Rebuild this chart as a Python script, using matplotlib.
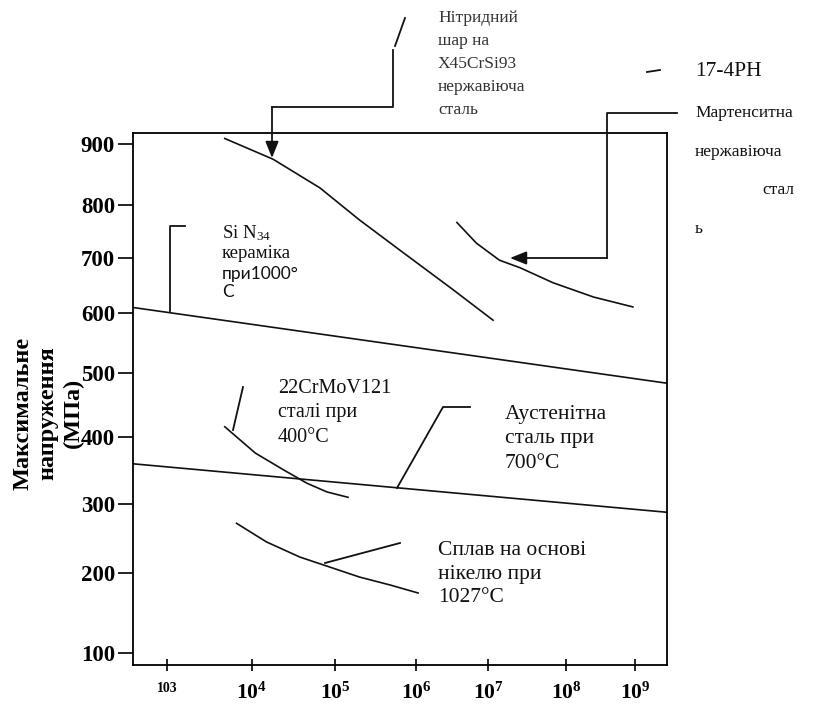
import numpy as np
import matplotlib
matplotlib.use("Agg")
import matplotlib.pyplot as plt
from matplotlib.lines import Line2D
from matplotlib.transforms import Affine2D

plt.rcParams['font.family'] = ['Liberation Serif', 'DejaVu Serif']
plt.rcParams['mathtext.fontset'] = 'custom'
plt.rcParams['mathtext.rm'] = 'Liberation Serif'
plt.rcParams['mathtext.it'] = 'Liberation Serif:italic'
plt.rcParams['mathtext.bf'] = 'Liberation Serif:bold'

W, H = 840, 706

# cycles to failure (N) and maximum stress (MPa) for each material
nitride_n = [4.8e3, 1.8e4, 6.6e4, 2.0e5, 6.3e5, 3.3e6, 1.16e7]
nitride_s = [909, 875, 828, 772, 715, 642, 588]

ph17_n = [3.7e6, 6.9e6, 1.4e7, 2.6e7, 6.8e7, 2.5e8, 9.3e8]
ph17_s = [767, 728, 696, 682, 655, 629, 611]

si3n4_n = [4.0e2, 2.9e9]
si3n4_s = [610, 484]

crmov_n = [4.8e3, 1.1e4, 2.4e4, 4.6e4, 8.0e4, 1.45e5]
crmov_s = [416, 376, 351, 331, 318, 310]

austenite_n = [4.0e2, 2.9e9]
austenite_s = [360, 288]

nickel_n = [6.6e3, 1.5e4, 3.8e4, 8.0e4, 2.0e5, 4.8e5, 1.07e6]
nickel_s = [272, 245, 223, 210, 195, 185, 175]

stress_ticks = [100, 200, 300, 400, 500, 600, 700, 800, 900]
cycle_exps = [3, 4, 5, 6, 7, 8, 9]
cycle_labels = ['103'] + [r'$\mathbf{10^{%d}}$' % e for e in cycle_exps[1:]]

# the grid of the drawing is spaced by hand, so both axes use piecewise maps
Y_VALS = [-1000, 100, 200, 300, 400, 500, 600, 700, 800, 900, 2000]
Y_POS = [-1533, -653, -573, -504, -437, -373, -313, -258, -205, -144, 527]
X_EXP = [-10, 3, 4, 5, 6, 7, 8, 9, 20]
X_POS = [-938, 167, 252, 335, 416, 488, 566, 635, 1394]


def y_fwd(v):
    return np.interp(v, Y_VALS, Y_POS)


def y_inv(p):
    return np.interp(p, Y_POS, Y_VALS)


def x_fwd(v):
    return np.interp(np.log10(np.clip(v, 1e-30, None)), X_EXP, X_POS)


def x_inv(p):
    return 10.0 ** np.interp(p, X_POS, X_EXP)


fig = plt.figure(figsize=(W / 100, H / 100), dpi=100)
ax = fig.add_axes([133 / W, (H - 665) / H, 534 / W, 532 / H])
ax.set_xscale('function', functions=(x_fwd, x_inv))
ax.set_yscale('function', functions=(y_fwd, y_inv))
ax.set_xlim(4.0e2, 2.9e9)
ax.set_ylim(85, 918)

for s in ax.spines.values():
    s.set_linewidth(1.3)

line_kw = dict(color='#111111', lw=1.2)
ax.plot(nitride_n, nitride_s, **line_kw)
ax.plot(ph17_n, ph17_s, **line_kw)
ax.plot(si3n4_n, si3n4_s, **line_kw)
ax.plot(crmov_n, crmov_s, **line_kw)
ax.plot(austenite_n, austenite_s, **line_kw)
ax.plot(nickel_n, nickel_s, **line_kw)

ax.set_yticks(stress_ticks, [str(v) for v in stress_ticks])
ax.set_xticks([10.0 ** e for e in cycle_exps], cycle_labels)
ax.tick_params(axis='y', direction='out', length=11, width=1.2, pad=2, labelsize=16.5)
ax.tick_params(axis='x', direction='inout', length=9, width=1.2, pad=8, labelsize=15.5)
for lbl in ax.get_yticklabels():
    lbl.set_fontweight('bold')
ax.get_xticklabels()[0].set_fontsize(10)
ax.get_xticklabels()[0].set_fontweight('bold')

# pixel coordinates from the top-left corner of the figure
px = Affine2D().scale(1 / W, -1 / H).translate(0, 1) + fig.transFigure


def leader(xs, ys):
    fig.add_artist(Line2D(xs, ys, transform=px, color='#111111', lw=1.3))


def arrow(tail, tip):
    fig.add_artist(matplotlib.patches.FancyArrowPatch(
        tail, tip, transform=px, arrowstyle='-|>,head_length=1.0,head_width=0.4',
        mutation_scale=10, color='#111111', lw=1.3, shrinkA=0, shrinkB=0))


# nitrided layer
leader([405, 395], [18, 46])
leader([393, 393, 272], [50, 107, 107])
arrow((272, 107), (272, 158))
# 17-4PH
leader([647, 660], [72, 70])
leader([677, 607, 607], [113, 113, 258])
arrow((607, 258), (510, 258))
# Si3N4
leader([185, 170, 170], [226, 226, 311])
# 22CrMoV121
leader([243, 233], [387, 430])
# austenitic steel
leader([397, 443, 470], [488, 407, 407])
# nickel alloy
leader([325, 400], [563, 543])

txt = dict(transform=px, ha='left', va='center', color='#111111')
fig.text(438, 64, 'Нітридний\nшар на\nX45CrSi93\nнержавіюча\nсталь',
         fontsize=12.5, linespacing=1.57, color='#333333',
         transform=px, ha='left', va='center')
fig.text(695, 72, '17-4PH', fontsize=15.5, **txt)
fig.text(695, 113, 'Мартенситна', fontsize=12.5, **txt)
fig.text(695, 152, 'нержавіюча', fontsize=12.5, **txt)
fig.text(762, 190, 'стал', fontsize=12.5, **txt)
fig.text(695, 229, 'ь', fontsize=12.5, **txt)
fig.text(222, 243, 'Si N$_{34}$\nкераміка', fontsize=13.5, linespacing=1.15, **txt)
fig.text(222, 283, 'при1000°\nС', fontsize=12.5, linespacing=1.18,
         family=['Lato', 'DejaVu Sans'], **txt)
fig.text(278, 413, '22CrMoV121\nсталі при\n400°C', fontsize=14.5, linespacing=1.4, **txt)
fig.text(505, 439, 'Аустенітна\nсталь при\n700°C', fontsize=15.5, linespacing=1.4, **txt)
fig.text(438, 574, 'Сплав на основі\nнікелю при\n1027°C', fontsize=15.5, linespacing=1.3, **txt)

fig.text(48, 413, 'Максимальне\nнапруження\n(МПа)', transform=px, rotation=90,
         ha='center', va='center', multialignment='center',
         fontsize=17.5, fontweight='bold', linespacing=1.25)

fig.savefig('out.png', dpi=100)
